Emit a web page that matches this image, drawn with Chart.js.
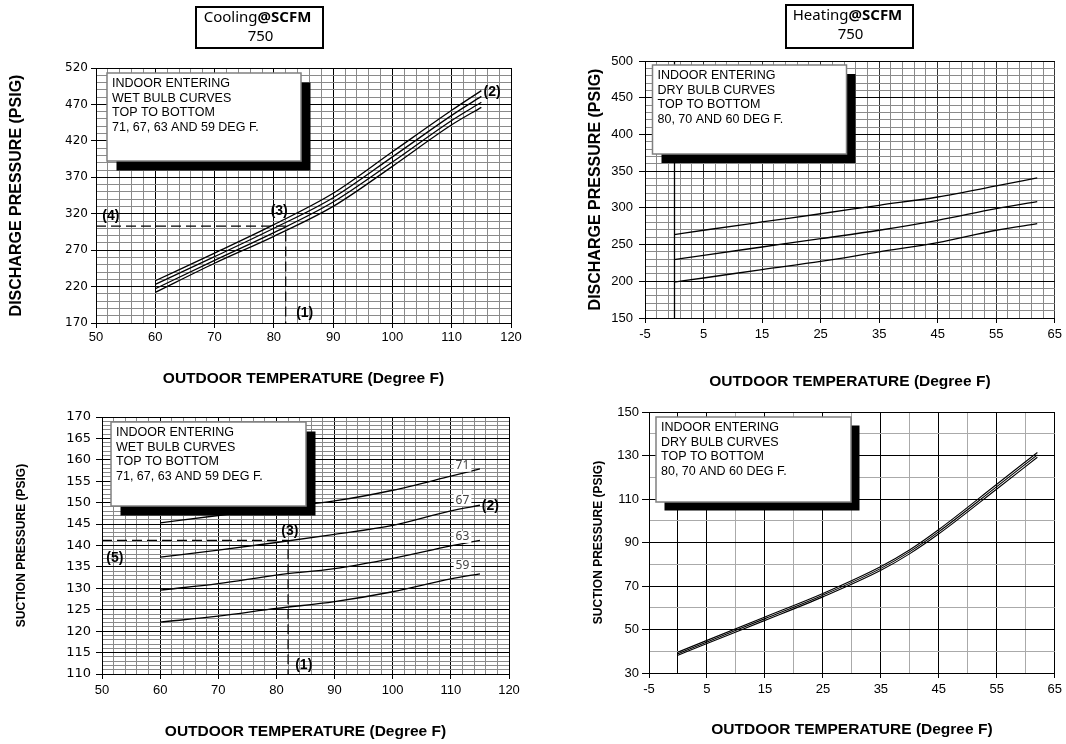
<!DOCTYPE html>
<html>
<head>
<meta charset="utf-8">
<script src="https://cdn.jsdelivr.net/npm/chart.js@4.4.0/dist/chart.umd.min.js"></script>
<style>
  body { margin: 0; background: #fff; }
  .sheet { position: relative; width: 1066px; height: 744px; overflow: hidden; }
  .sheet canvas { position: absolute; }
</style>
</head>
<body>
<div class="sheet">
  <canvas id="coolDischarge" width="540" height="392" style="left:0;top:0"></canvas>
  <canvas id="heatDischarge" width="486" height="392" style="left:580px;top:0"></canvas>
  <canvas id="coolSuction" width="540" height="352" style="left:0;top:392px"></canvas>
  <canvas id="heatSuction" width="486" height="352" style="left:580px;top:392px"></canvas>
</div>
<script>
// ---- data ----
// cooling, discharge pressure vs outdoor temp, one curve per indoor wet bulb
const coolTemps = [60, 70, 80, 90, 100, 110, 115];
const coolDisch71 = [228, 266, 305, 348, 405, 462, 489];
const coolDisch67 = [223, 261, 300, 342, 398, 455, 481];
const coolDisch63 = [217, 256, 294, 336, 391, 448, 473];
const coolDisch59 = [212, 252, 289, 330, 385, 442, 466];

// cooling, suction pressure
const coolSuct71 = [145.3, 147.0, 148.8, 150.4, 152.9, 156.2, 157.9];
const coolSuct67 = [137.3, 138.9, 140.7, 142.6, 144.7, 148.1, 149.4];
const coolSuct63 = [129.6, 131.1, 133.1, 134.6, 137.0, 139.9, 141.2];
const coolSuct59 = [122.1, 123.5, 125.3, 126.9, 129.2, 132.2, 133.4];

// heating, discharge pressure, one curve per indoor dry bulb
const heatTemps = [0, 5, 15, 25, 35, 45, 55, 62];
const heatDisch80 = [263.6, 269.5, 280.8, 292.0, 303.5, 314.8, 329.8, 340.7];
const heatDisch70 = [229.5, 235.4, 246.7, 258.0, 269.5, 283.0, 299.0, 308.5];
const heatDisch60 = [199.0, 204.5, 216.0, 227.0, 240.0, 252.7, 269.5, 278.5];

// heating, suction pressure
const heatSuctTemps = [0, 5, 15, 25, 35, 40, 45, 55, 62];
const heatSuct80 = [39.6, 45.0, 55.8, 66.6, 79.0, 86.7, 96.0, 116.8, 131.4];
const heatSuct70 = [38.9, 44.3, 55.0, 65.8, 78.1, 85.8, 95.0, 115.7, 130.3];
const heatSuct60 = [38.2, 43.6, 54.2, 65.0, 77.2, 84.9, 94.0, 114.6, 129.2];

// worked example: (1) outdoor temp, (4) discharge and (5) suction read-outs
const exampleTemp = 82;
const exampleDischarge = 303;
const exampleSuction = 141.2;

// labelled ticks
const coolTempTicks = [50, 60, 70, 80, 90, 100, 110, 120];
const heatTempTicks = [-5, 5, 15, 25, 35, 45, 55, 65];
const coolDischTicks = [170, 220, 270, 320, 370, 420, 470, 520];
const coolSuctTicks = [110, 115, 120, 125, 130, 135, 140, 145, 150, 155, 160, 165, 170];
const heatDischTicks = [150, 200, 250, 300, 350, 400, 450, 500];
const heatSuctTicks = [30, 50, 70, 90, 110, 130, 150];

const wetBulbNote = ['INDOOR ENTERING', 'WET BULB CURVES', 'TOP TO BOTTOM', '71, 67, 63 AND 59 DEG F.'];
const dryBulbNote = ['INDOOR ENTERING', 'DRY BULB CURVES', 'TOP TO BOTTOM', '80, 70 AND 60 DEG F.'];

const FONT = 'Arial, "Liberation Sans", sans-serif';
const WIDE = '"DejaVu Sans", sans-serif';
const MINOR = '#8a8a8a';

function axis(cfg) {
  return {
    type: 'linear',
    min: cfg.ticks[0],
    max: cfg.ticks[cfg.ticks.length - 1],
    afterFit: s => {
      if (cfg.width) s.width = cfg.width;
      if (cfg.height) s.height = cfg.height;
    },
    border: { color: '#000', width: 1 },
    grid: {
      color: c => {
        const v = c.tick ? c.tick.value : null;
        if (v === 0 && cfg.zeroBlack) return '#000';
        return cfg.ticks.includes(v) ? (cfg.major || '#000') : (cfg.minor || MINOR);
      },
      lineWidth: 1,
      tickLength: cfg.tickLength || 5,
      tickColor: c => (c.tick && cfg.ticks.includes(c.tick.value)) ? '#000' : 'rgba(0,0,0,0)'
    },
    ticks: {
      stepSize: cfg.step,
      autoSkip: false,
      maxRotation: 0,
      minRotation: 0,
      padding: cfg.pad,
      color: '#000',
      font: cfg.tickFont || { family: FONT, size: 13 },
      callback: v => cfg.ticks.includes(v) ? String(v) : ''
    },
    title: {
      display: true,
      text: cfg.title,
      color: '#000',
      font: { family: FONT, size: cfg.titleSize, weight: 'bold' },
      padding: cfg.titlePad
    }
  };
}

function curve(xs, ys, w) {
  return {
    data: xs.map((x, i) => ({ x: x, y: ys[i] })),
    borderColor: '#000',
    borderWidth: w || 1.3,
    pointRadius: 0,
    cubicInterpolationMode: 'monotone',
    fill: false
  };
}

function dashed(pts) {
  return {
    data: pts,
    borderColor: '#000',
    borderWidth: 1.2,
    borderDash: [10, 5],
    pointRadius: 0,
    fill: false
  };
}

// title box, note box with drop shadow, callouts and curve tags
const sheetDecor = {
  id: 'sheetDecor',
  beforeDatasetsDraw(chart, args, o) {
    if (!o.zeroLine) return;
    const { ctx, chartArea: a } = chart;
    const px = Math.round(chart.scales.x.getPixelForValue(0)) + 0.5;
    ctx.save();
    ctx.strokeStyle = '#000';
    ctx.lineWidth = 1.3;
    ctx.beginPath();
    ctx.moveTo(px, a.top);
    ctx.lineTo(px, a.bottom);
    ctx.stroke();
    ctx.restore();
  },
  afterDatasetsDraw(chart, args, o) {
    const ctx = chart.ctx;
    const sx = chart.scales.x, sy = chart.scales.y;
    ctx.save();
    ctx.textBaseline = 'middle';

    (o.tags || []).forEach(t => {
      const px = sx.getPixelForValue(t.x), py = sy.getPixelForValue(t.y);
      ctx.font = '12px "Noto Sans", sans-serif';
      const w = ctx.measureText(t.text).width;
      ctx.fillStyle = '#fff';
      ctx.fillRect(px - w / 2 - 2, py - 6, w + 4, 12);
      ctx.fillStyle = '#444';
      ctx.textAlign = 'center';
      ctx.fillText(t.text, px, py);
    });

    (o.callouts || []).forEach(t => {
      ctx.font = 'bold 14px ' + FONT;
      ctx.fillStyle = '#000';
      ctx.textAlign = 'center';
      ctx.fillText(t.text, sx.getPixelForValue(t.x), sy.getPixelForValue(t.y));
    });

    if (o.note) {
      const n = o.note;
      ctx.fillStyle = '#000';
      ctx.fillRect(n.x + n.shift, n.y + n.shift, n.w, n.h);
      ctx.fillStyle = '#fff';
      ctx.fillRect(n.x, n.y, n.w, n.h);
      ctx.strokeStyle = '#808080';
      ctx.lineWidth = 1.5;
      ctx.strokeRect(n.x, n.y, n.w, n.h);
      ctx.fillStyle = '#000';
      ctx.textAlign = 'left';
      ctx.font = '12.5px ' + FONT;
      n.lines.forEach((l, i) => ctx.fillText(l, n.x + 5, n.y + 10.5 + i * 14.6));
    }

    if (o.title) {
      const b = o.title;
      ctx.strokeStyle = '#000';
      ctx.lineWidth = 2;
      ctx.fillStyle = '#fff';
      ctx.fillRect(b.x, b.y, b.w, b.h);
      ctx.strokeRect(b.x, b.y, b.w, b.h);
      ctx.fillStyle = '#000';
      const reg = '15px "Noto Sans", sans-serif', bold = 'bold 15px "Noto Sans", sans-serif';
      ctx.font = reg;
      const w1 = ctx.measureText(b.mode).width;
      ctx.font = bold;
      const w2 = ctx.measureText('@SCFM').width;
      const left = b.x + (b.w - w1 - w2) / 2 - 2;
      ctx.textAlign = 'left';
      ctx.font = reg;
      ctx.fillText(b.mode, left, b.y + 11);
      ctx.font = bold;
      ctx.fillText('@SCFM', left + w1, b.y + 11);
      ctx.font = reg;
      ctx.textAlign = 'center';
      ctx.fillText(b.cfm, b.x + b.w / 2 + 1, b.y + 30);
    }
    ctx.restore();
  }
};

function baseOptions(padding, scales, decor) {
  return {
    responsive: false,
    animation: false,
    events: [],
    layout: { padding: padding },
    scales: scales,
    plugins: { legend: { display: false }, tooltip: { enabled: false }, sheetDecor: decor }
  };
}

const tempTitle = 'OUTDOOR TEMPERATURE (Degree F)';

new Chart(document.getElementById('coolDischarge'), {
  type: 'line',
  data: {
    datasets: [
      curve(coolTemps, coolDisch71), curve(coolTemps, coolDisch67),
      curve(coolTemps, coolDisch63), curve(coolTemps, coolDisch59),
      dashed([{ x: coolTempTicks[0], y: exampleDischarge }, { x: exampleTemp, y: exampleDischarge },
              { x: exampleTemp, y: coolDischTicks[0] }])
    ]
  },
  options: baseOptions({ top: 68, right: 29, left: 0, bottom: 0 }, {
    x: axis({ ticks: coolTempTicks, step: 2, height: 69, pad: 2, title: tempTitle, titleSize: 15.5,
              titlePad: { top: 0, bottom: 4 } }),
    y: axis({ ticks: coolDischTicks, step: 10, width: 96, pad: 3, tickFont: { family: WIDE, size: 12 },
              title: 'DISCHARGE PRESSURE (PSIG)', titleSize: 16, titlePad: { top: 7, bottom: 0 } })
  }, {
    title: { x: 196, y: 7, w: 127, h: 41, mode: 'Cooling', cfm: '750' },
    note: { x: 107, y: 73, w: 194, h: 88, shift: 9.5, lines: wetBulbNote },
    callouts: [
      { text: '(4)', x: 52.5, y: 316 }, { text: '(3)', x: 80.9, y: 324 },
      { text: '(2)', x: 116.8, y: 487.5 }, { text: '(1)', x: 85.2, y: 183.3 }
    ]
  }),
  plugins: [sheetDecor]
});

new Chart(document.getElementById('heatDischarge'), {
  type: 'line',
  data: {
    datasets: [
      curve(heatTemps, heatDisch80), curve(heatTemps, heatDisch70), curve(heatTemps, heatDisch60)
    ]
  },
  options: baseOptions({ top: 61, right: 8, left: 0, bottom: 0 }, {
    x: axis({ ticks: heatTempTicks, step: 2, height: 74, pad: 4, major: '#333', title: tempTitle, titleSize: 15.5,
              titlePad: { top: 0, bottom: 1 } }),
    y: axis({ ticks: heatDischTicks, step: 10, width: 65, pad: 6, tickLength: 6, title: 'DISCHARGE PRESSURE (PSIG)',
              titleSize: 16, titlePad: { top: 6, bottom: 0 } })
  }, {
    zeroLine: true,
    title: { x: 206, y: 5, w: 127, h: 43, mode: 'Heating', cfm: '750' },
    note: { x: 72.5, y: 65, w: 194, h: 89, shift: 9, lines: dryBulbNote }
  }),
  plugins: [sheetDecor]
});

new Chart(document.getElementById('coolSuction'), {
  type: 'line',
  data: {
    datasets: [
      curve(coolTemps, coolSuct71), curve(coolTemps, coolSuct67),
      curve(coolTemps, coolSuct63), curve(coolTemps, coolSuct59),
      dashed([{ x: coolTempTicks[0], y: exampleSuction }, { x: exampleTemp, y: exampleSuction },
              { x: exampleTemp, y: coolSuctTicks[0] }])
    ]
  },
  options: baseOptions({ top: 25, right: 31, left: 0, bottom: 0 }, {
    x: axis({ ticks: coolTempTicks, step: 2, height: 70, pad: 4, title: tempTitle, titleSize: 15.5,
              titlePad: { top: 0, bottom: 3 } }),
    y: axis({ ticks: coolSuctTicks, step: 1, width: 102, pad: 5, tickLength: 6, tickFont: { family: WIDE, size: 13 },
              title: 'SUCTION PRESSURE (PSIG)', titleSize: 12, titlePad: { top: 14, bottom: 0 } })
  }, {
    note: { x: 111, y: 30, w: 195, h: 84, shift: 9.5, lines: wetBulbNote },
    tags: [
      { text: '71', x: 112, y: 158.6 }, { text: '67', x: 112, y: 150.6 },
      { text: '63', x: 112, y: 142.0 }, { text: '59', x: 112, y: 135.3 }
    ],
    callouts: [
      { text: '(5)', x: 52.2, y: 137.1 }, { text: '(3)', x: 82.3, y: 143.4 },
      { text: '(2)', x: 116.8, y: 149.2 }, { text: '(1)', x: 84.7, y: 112.1 }
    ]
  }),
  plugins: [sheetDecor]
});

new Chart(document.getElementById('heatSuction'), {
  type: 'line',
  data: {
    datasets: [
      curve(heatSuctTemps, heatSuct80, 1.1), curve(heatSuctTemps, heatSuct70, 1.1), curve(heatSuctTemps, heatSuct60, 1.1)
    ]
  },
  options: baseOptions({ top: 20, right: 8, left: 0, bottom: 0 }, {
    x: axis({ ticks: heatTempTicks, step: 5, height: 71, pad: 4, minor: '#aaa', zeroBlack: true, title: tempTitle,
              titleSize: 15.5, titlePad: { top: 0, bottom: 5 } }),
    y: axis({ ticks: heatSuctTicks, step: 10, width: 69, pad: 3, tickLength: 7, minor: '#aaa', title: 'SUCTION PRESSURE (PSIG)',
              titleSize: 12, titlePad: { top: 11, bottom: 0 } })
  }, {
    note: { x: 76, y: 25, w: 195, h: 85, shift: 8.5, lines: dryBulbNote }
  }),
  plugins: [sheetDecor]
});
</script>
</body>
</html>
